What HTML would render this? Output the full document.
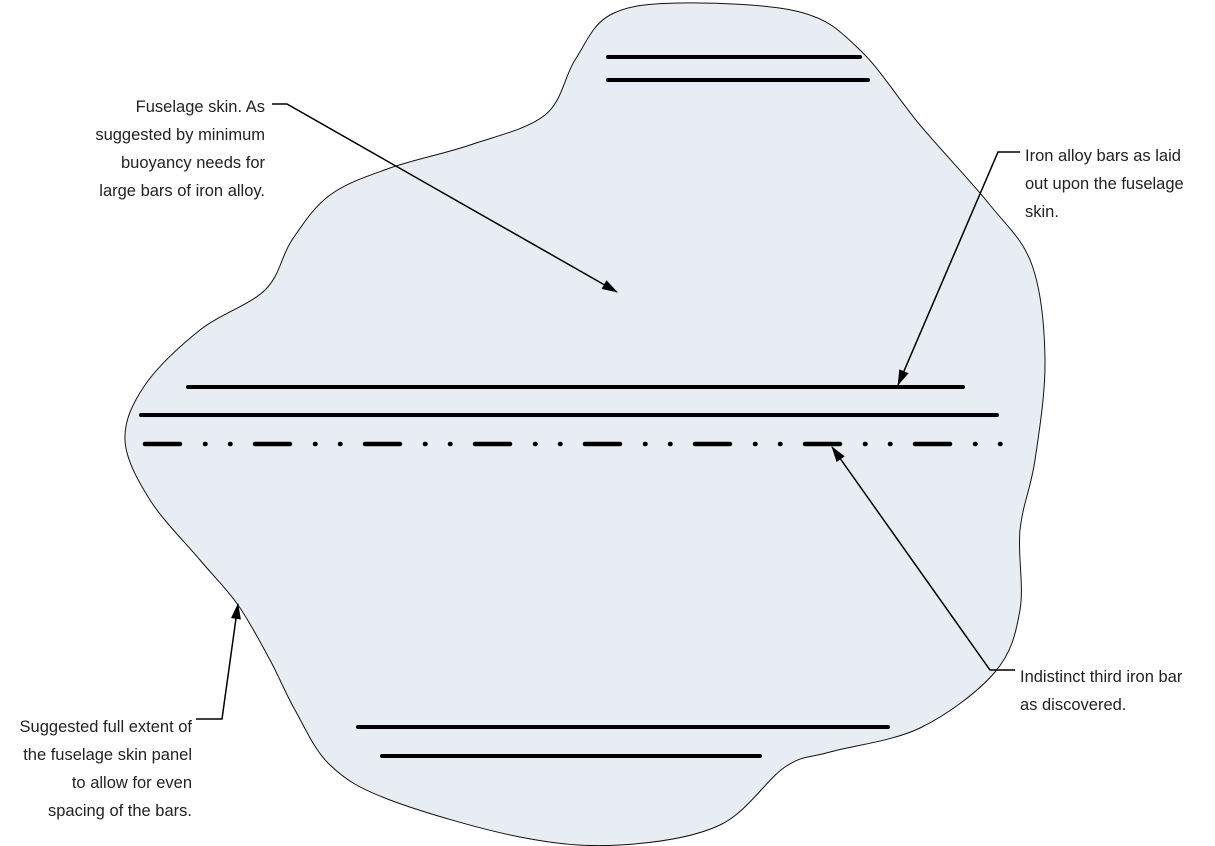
<!DOCTYPE html>
<html><head><meta charset="utf-8"><style>
html,body{margin:0;padding:0;background:#fff;}
svg{display:block;}
text{font-family:"Liberation Sans",sans-serif;font-size:16.5px;fill:#222;}
</style></head><body>
<svg width="1215" height="846" viewBox="0 0 1215 846" xmlns="http://www.w3.org/2000/svg">
<defs>
<marker id="ah" markerWidth="16" markerHeight="10" refX="15" refY="5" orient="auto" markerUnits="userSpaceOnUse">
<path d="M0,0 L16,5 L0,10 Z" fill="#000"/>
</marker>
</defs>
<path id="blob" fill="#e8edf4" stroke="#111" stroke-width="1" d=""/>
<g stroke="#000" stroke-width="4" stroke-linecap="round" fill="none">
<line x1="608" y1="57" x2="860" y2="57"/>
<line x1="608" y1="80" x2="868" y2="80"/>
<line x1="188" y1="387" x2="963" y2="387"/>
<line x1="141" y1="415" x2="997" y2="415"/>
<line x1="358" y1="727" x2="888" y2="727"/>
<line x1="382" y1="756" x2="760" y2="756"/>
</g>
<g id="dash" stroke="#000" stroke-width="4.5" stroke-linecap="round"></g>
<g stroke="#000" stroke-width="1.5" fill="none">
<polyline points="272,104 287,104 617,292" marker-end="url(#ah)"/>
<polyline points="1020,152 998,152 898,385" marker-end="url(#ah)"/>
<polyline points="1015,670 990,670 832,447" marker-end="url(#ah)"/>
<polyline points="196,719 222,719 238,604" marker-end="url(#ah)"/>
</g>
<g text-anchor="end">
<text x="265" y="112">Fuselage skin. As</text>
<text x="265" y="140">suggested by minimum</text>
<text x="265" y="168">buoyancy needs for</text>
<text x="265" y="196">large bars of iron alloy.</text>
<text x="192" y="732">Suggested full extent of</text>
<text x="192" y="760">the fuselage skin panel</text>
<text x="192" y="788">to allow for even</text>
<text x="192" y="816">spacing of the bars.</text>
</g>
<text x="1025" y="161">Iron alloy bars as laid</text>
<text x="1025" y="189">out upon the fuselage</text>
<text x="1025" y="217">skin.</text>
<text x="1020" y="682">Indistinct third iron bar</text>
<text x="1020" y="710">as discovered.</text>
</svg>
<script>
var p=[[680,3],[610,15],[575,60],[545,115],[470,145],[390,168],[330,195],[292,240],[265,290],[200,330],[145,385],[125,440],[150,500],[200,560],[238,605],[270,660],[295,710],[330,765],[390,800],[520,837],[620,845],[720,825],[785,767],[830,752],[920,728],[995,672],[1020,610],[1020,530],[1035,460],[1045,360],[1032,265],[990,205],[920,125],[860,50],[800,12]];
var n=p.length,d="M"+p[0][0]+","+p[0][1];
for(var i=0;i<n;i++){var a=p[(i-1+n)%n],b=p[i],c=p[(i+1)%n],e=p[(i+2)%n];
d+=" C"+(b[0]+(c[0]-a[0])/6)+","+(b[1]+(c[1]-a[1])/6)+" "+(c[0]-(e[0]-b[0])/6)+","+(c[1]-(e[1]-b[1])/6)+" "+c[0]+","+c[1];}
document.getElementById("blob").setAttribute("d",d+"Z");
var g=document.getElementById("dash"),s="";
for(var x=145;x<1010;x+=110){
s+='<line x1="'+x+'" y1="444" x2="'+Math.min(x+35,1000)+'" y2="444"/>';
[x+60,x+85].forEach(function(q){if(q<1005)s+='<line x1="'+q+'" y1="444" x2="'+(q+0.5)+'" y2="444"/>';});
}
g.innerHTML=s;
</script>
</body></html>
